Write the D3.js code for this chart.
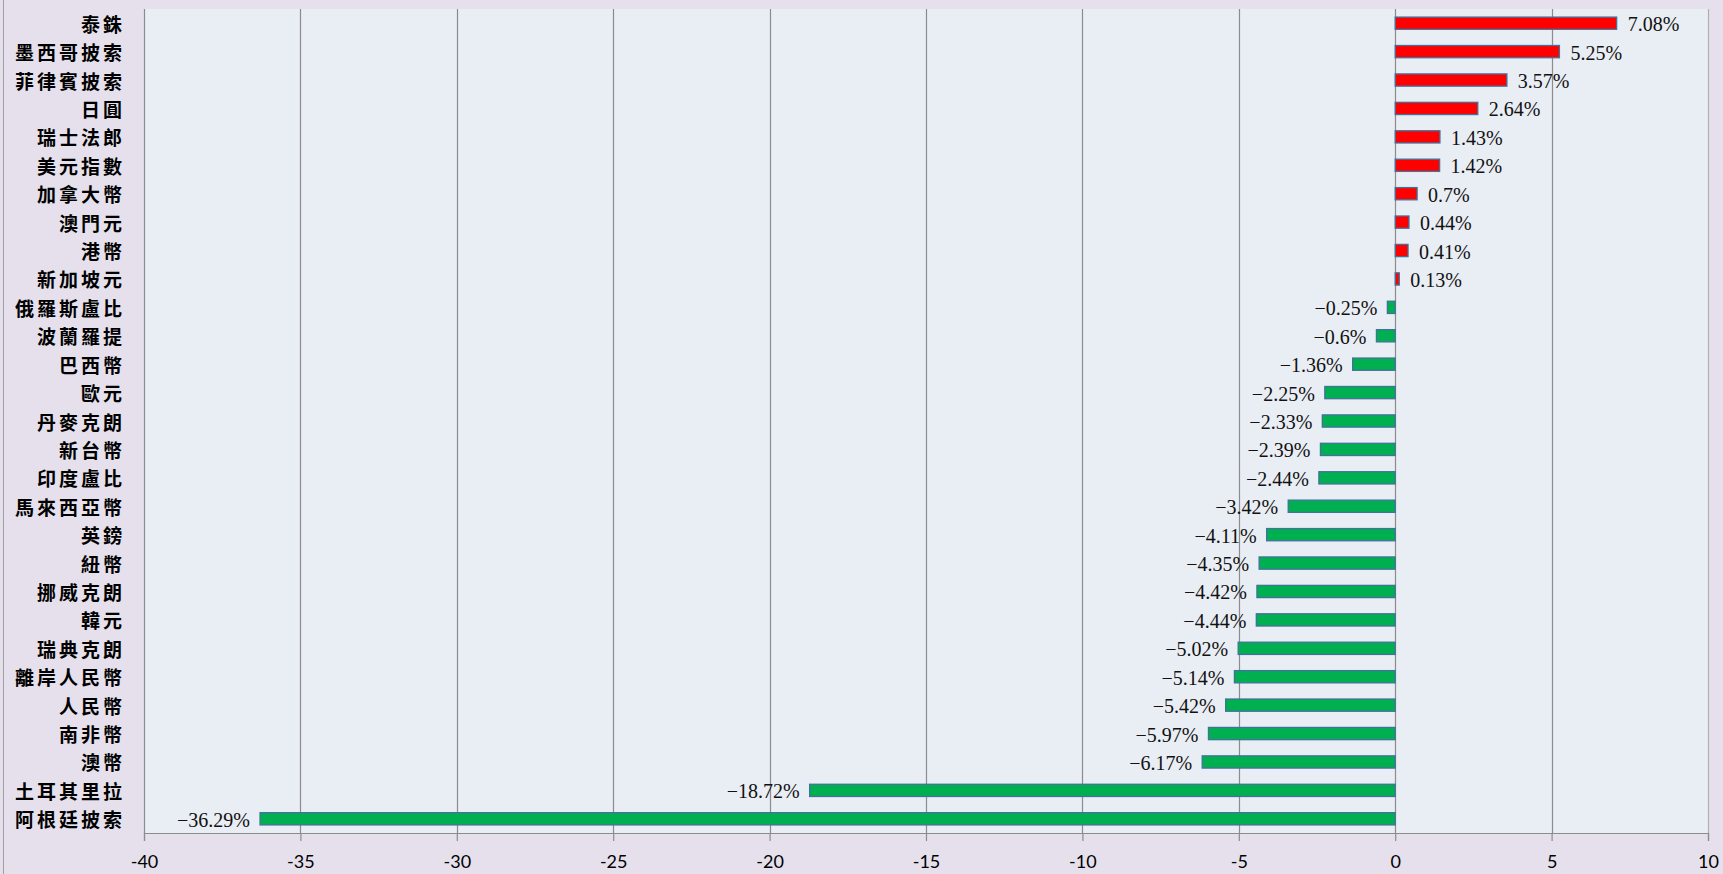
<!DOCTYPE html>
<html lang="zh-Hant">
<head>
    <meta charset="UTF-8" />
    <title>貨幣兌美元變動</title>
    <script src="https://d3js.org/d3.v7.min.js"></script>
    <style>
        html, body {
            margin: 0;
            padding: 0;
            background: #E5E0EC;
        }
        svg { display: block; }
        .cat text {
            font-family: "Noto Sans CJK TC", sans-serif;
            font-weight: 700;
            font-size: 19px;
            letter-spacing: 3px;
            fill: #000;
        }
        .val {
            font-family: "Liberation Serif", serif;
            font-size: 20px;
            fill: #111;
        }
        .x-axis text {
            font-family: Lato, "Liberation Sans", sans-serif;
            font-size: 18px;
            fill: #000;
        }
    </style>
</head>
<body>
<svg id="chart" width="1723" height="874"></svg>
<script>
    // 類別與數值 (由上而下)
    const currencies = ["泰銖", "墨西哥披索", "菲律賓披索", "日圓", "瑞士法郎", "美元指數", "加拿大幣", "澳門元",
        "港幣", "新加坡元", "俄羅斯盧比", "波蘭羅提", "巴西幣", "歐元", "丹麥克朗", "新台幣", "印度盧比",
        "馬來西亞幣", "英鎊", "紐幣", "挪威克朗", "韓元", "瑞典克朗", "離岸人民幣", "人民幣", "南非幣",
        "澳幣", "土耳其里拉", "阿根廷披索"];
    const changes = [7.08, 5.25, 3.57, 2.64, 1.43, 1.42, 0.7, 0.44, 0.41, 0.13, -0.25, -0.6, -1.36, -2.25,
        -2.33, -2.39, -2.44, -3.42, -4.11, -4.35, -4.42, -4.44, -5.02, -5.14, -5.42, -5.97, -6.17, -18.72, -36.29];
    const xTicks = [-40, -35, -30, -25, -20, -15, -10, -5, 0, 5, 10];

    const margin = { top: 9, right: 15, bottom: 41, left: 144 };
    const width = 1723 - margin.left - margin.right;
    const height = 874 - margin.top - margin.bottom;

    const svg = d3.select("#chart");

    // 外框
    svg.append("rect")
        .attr("x", 3.5).attr("y", -1)
        .attr("width", 1730).attr("height", 880)
        .attr("fill", "#E5E0EC")
        .attr("stroke", "#A0A0A0");

    const g = svg.append("g")
        .attr("transform", `translate(${margin.left},${margin.top})`);

    const x = d3.scaleLinear().domain([-40, 10]).range([0, width]);
    const y = d3.scaleBand().domain(currencies).range([0, height]).paddingInner(0.57).paddingOuter(0.285);

    // 繪圖區
    g.append("rect")
        .attr("width", width)
        .attr("height", height)
        .attr("fill", "#E9EDF4");

    // 格線
    g.selectAll(".grid")
        .data(xTicks)
        .enter().append("line")
        .attr("class", "grid")
        .attr("x1", d => Math.round(x(d)) + 0.5)
        .attr("x2", d => Math.round(x(d)) + 0.5)
        .attr("y1", 0)
        .attr("y2", height)
        .attr("stroke", d => d === 10 ? "#B0B0B0" : "#8C8C8C")
        .attr("stroke-width", 1.2);

    // X 軸
    const xAxis = g.append("g")
        .attr("class", "x-axis")
        .attr("transform", `translate(0,${height})`)
        .call(d3.axisBottom(x).tickValues(xTicks).tickSize(8).tickPadding(14).tickFormat(d3.format("d")));
    xAxis.select(".domain").attr("stroke", "#8C8C8C").attr("stroke-width", 1.2);
    xAxis.selectAll(".tick line").attr("stroke", "#8C8C8C").attr("stroke-width", 1.2);
    xAxis.selectAll(".tick text").text(d => d < 0 ? "-" + Math.abs(d) : d);

    // 長條
    g.selectAll(".bar")
        .data(changes)
        .enter().append("rect")
        .attr("class", "bar")
        .attr("x", d => x(Math.min(0, d)))
        .attr("y", (d, i) => y(currencies[i]))
        .attr("width", d => Math.abs(x(d) - x(0)))
        .attr("height", y.bandwidth())
        .attr("fill", d => d >= 0 ? "#FF0000" : "#00B050")
        .attr("stroke", "#41719C")
        .attr("stroke-width", 1.3);

    // 數值標籤
    g.selectAll(".val")
        .data(changes)
        .enter().append("text")
        .attr("class", "val")
        .attr("x", d => d >= 0 ? x(d) + 11 : x(d) - 10)
        .attr("y", (d, i) => y(currencies[i]) + y.bandwidth() / 2 + 1)
        .attr("dominant-baseline", "central")
        .attr("text-anchor", d => d >= 0 ? "start" : "end")
        .text(d => (d < 0 ? "\u2212" + Math.abs(d) : d) + "%");

    // 類別標籤
    const cat = svg.append("g")
        .attr("class", "cat")
        .attr("transform", `translate(0,${margin.top})`);
    cat.selectAll("text")
        .data(currencies)
        .enter().append("text")
        .attr("x", 125)
        .attr("y", d => y(d) + y.bandwidth() / 2)
        .attr("dominant-baseline", "central")
        .attr("text-anchor", "end")
        .text(d => d);
</script>
</body>
</html>
